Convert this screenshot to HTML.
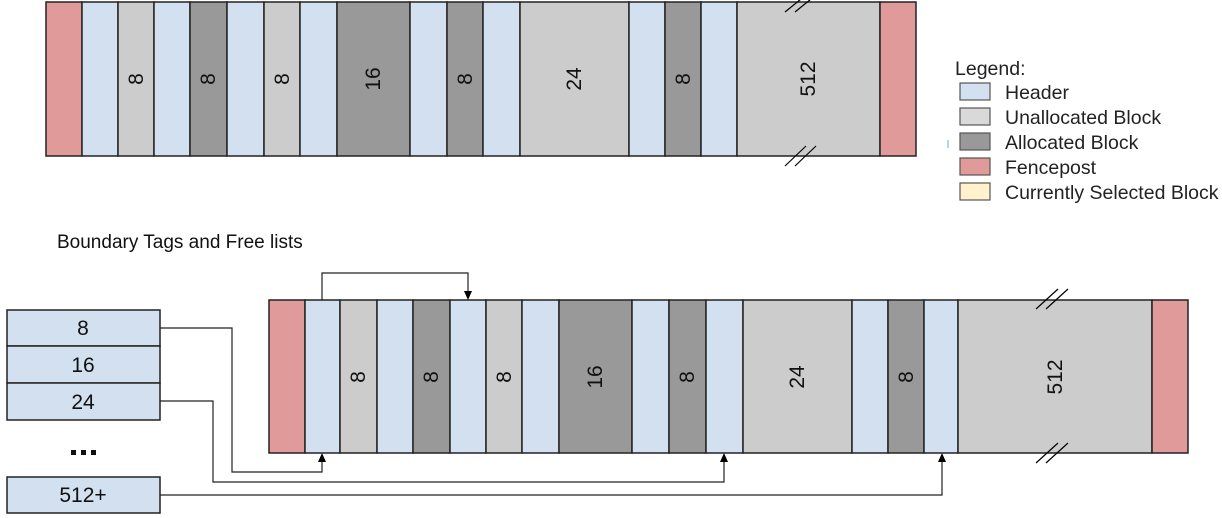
<!DOCTYPE html>
<html><head><meta charset="utf-8"><style>
html,body{margin:0;padding:0;background:#fff;}
svg{display:block;font-family:"Liberation Sans",Arial,sans-serif;}
</style></head><body>
<svg width="1222" height="518" viewBox="0 0 1222 518" xmlns="http://www.w3.org/2000/svg">
<g stroke="#222" stroke-width="1.5">
<rect x="46" y="2" width="36" height="154" fill="#df9a99"/>
<rect x="82" y="2" width="36" height="154" fill="#d3e0f0"/>
<rect x="118" y="2" width="36" height="154" fill="#cccccc"/>
<rect x="154" y="2" width="36" height="154" fill="#d3e0f0"/>
<rect x="190" y="2" width="37" height="154" fill="#999999"/>
<rect x="227" y="2" width="37" height="154" fill="#d3e0f0"/>
<rect x="264" y="2" width="36" height="154" fill="#cccccc"/>
<rect x="300" y="2" width="37" height="154" fill="#d3e0f0"/>
<rect x="337" y="2" width="73" height="154" fill="#999999"/>
<rect x="410" y="2" width="37" height="154" fill="#d3e0f0"/>
<rect x="447" y="2" width="36" height="154" fill="#999999"/>
<rect x="483" y="2" width="37" height="154" fill="#d3e0f0"/>
<rect x="520" y="2" width="109" height="154" fill="#cccccc"/>
<rect x="629" y="2" width="36" height="154" fill="#d3e0f0"/>
<rect x="665" y="2" width="36" height="154" fill="#999999"/>
<rect x="701" y="2" width="36" height="154" fill="#d3e0f0"/>
<rect x="737" y="2" width="143" height="154" fill="#cccccc"/>
<rect x="880" y="2" width="36" height="154" fill="#df9a99"/>
<rect x="269" y="300" width="36" height="153" fill="#df9a99"/>
<rect x="305" y="300" width="35" height="153" fill="#d3e0f0"/>
<rect x="340" y="300" width="37" height="153" fill="#cccccc"/>
<rect x="377" y="300" width="36" height="153" fill="#d3e0f0"/>
<rect x="413" y="300" width="37" height="153" fill="#999999"/>
<rect x="450" y="300" width="36" height="153" fill="#d3e0f0"/>
<rect x="486" y="300" width="36" height="153" fill="#cccccc"/>
<rect x="522" y="300" width="37" height="153" fill="#d3e0f0"/>
<rect x="559" y="300" width="73" height="153" fill="#999999"/>
<rect x="632" y="300" width="37" height="153" fill="#d3e0f0"/>
<rect x="669" y="300" width="37" height="153" fill="#999999"/>
<rect x="706" y="300" width="37" height="153" fill="#d3e0f0"/>
<rect x="743" y="300" width="109" height="153" fill="#cccccc"/>
<rect x="852" y="300" width="36" height="153" fill="#d3e0f0"/>
<rect x="888" y="300" width="36" height="153" fill="#999999"/>
<rect x="924" y="300" width="34" height="153" fill="#d3e0f0"/>
<rect x="958" y="300" width="194" height="153" fill="#cccccc"/>
<rect x="1152" y="300" width="36" height="153" fill="#df9a99"/>
<rect x="7" y="310" width="153" height="36" fill="#d3e0f0"/>
<rect x="7" y="346" width="153" height="37" fill="#d3e0f0"/>
<rect x="7" y="383" width="153" height="37" fill="#d3e0f0"/>
<rect x="7" y="477" width="153" height="36" fill="#d3e0f0"/>
</g>
<g stroke="#000" stroke-width="1.2">
<line x1="785" y1="12" x2="801" y2="-1"/><line x1="795" y1="12" x2="811" y2="-1"/>
<line x1="785" y1="166" x2="806" y2="146"/><line x1="795" y1="166" x2="816" y2="146"/>
<line x1="1036" y1="309" x2="1058" y2="289"/><line x1="1046" y1="309" x2="1068" y2="289"/>
<line x1="1036" y1="463" x2="1058" y2="443"/><line x1="1046" y1="463" x2="1068" y2="443"/>
</g>
<g stroke="#222" stroke-width="1.2" fill="none">
<polyline points="322,300 322,273 468,273 468,292"/>
<polyline points="160,328 232,328 232,472 322,472 322,461"/>
<polyline points="160,401 213,401 213,482 724,482 724,461"/>
<polyline points="160,495 942,495 942,461"/>
</g>
<g fill="#000">
<path d="M464,291 L472,291 L468,300 z"/>
<path d="M318,462 L326,462 L322,453 z"/>
<path d="M720,462 L728,462 L724,453 z"/>
<path d="M938,462 L946,462 L942,453 z"/>
</g>
<g font-size="21" fill="#111" text-anchor="middle">
<text transform="translate(136,79) rotate(-90)" dy="7">8</text>
<text transform="translate(208,79) rotate(-90)" dy="7">8</text>
<text transform="translate(282,79) rotate(-90)" dy="7">8</text>
<text transform="translate(373,79) rotate(-90)" dy="7">16</text>
<text transform="translate(465,79) rotate(-90)" dy="7">8</text>
<text transform="translate(574,79) rotate(-90)" dy="7">24</text>
<text transform="translate(683,79) rotate(-90)" dy="7">8</text>
<text transform="translate(808,79) rotate(-90)" dy="7">512</text>
<text transform="translate(358,377) rotate(-90)" dy="7">8</text>
<text transform="translate(431,377) rotate(-90)" dy="7">8</text>
<text transform="translate(504,377) rotate(-90)" dy="7">8</text>
<text transform="translate(595,377) rotate(-90)" dy="7">16</text>
<text transform="translate(687,377) rotate(-90)" dy="7">8</text>
<text transform="translate(797,377) rotate(-90)" dy="7">24</text>
<text transform="translate(906,377) rotate(-90)" dy="7">8</text>
<text transform="translate(1055,377) rotate(-90)" dy="7">512</text>
<text x="83" y="335">8</text>
<text x="83" y="372">16</text>
<text x="83" y="409">24</text>
<text x="83" y="502">512+</text>
</g>
<g fill="#111"><rect x="71" y="450" width="5" height="5"/><rect x="81" y="450" width="5" height="5"/><rect x="91" y="450" width="5" height="5"/></g>
<text x="57" y="248" font-size="19" fill="#111">Boundary Tags and Free lists</text>
<g font-size="19.5" fill="#222">
<text x="955" y="75">Legend:</text>
<g stroke="#555" stroke-width="1.2">
<rect x="960" y="83" width="30" height="17" fill="#d3e0f0"/>
<rect x="960" y="108" width="30" height="17" fill="#d9d9d9"/>
<rect x="960" y="133" width="30" height="17" fill="#999999"/>
<rect x="960" y="158" width="30" height="17" fill="#df9a99"/>
<rect x="960" y="183" width="30" height="17" fill="#fff2cc"/>
</g>
<line x1="948" y1="140" x2="948" y2="148" stroke="#6fa8dc" stroke-width="1"/>
<text x="1005" y="99">Header</text>
<text x="1005" y="124">Unallocated Block</text>
<text x="1005" y="149">Allocated Block</text>
<text x="1005" y="174">Fencepost</text>
<text x="1005" y="199">Currently Selected Block</text>
</g>
</svg>
</body></html>
